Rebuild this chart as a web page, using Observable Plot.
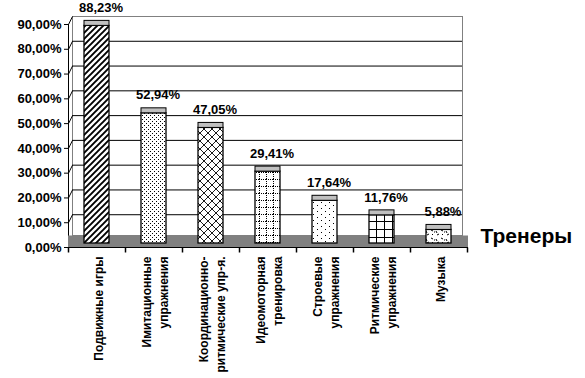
<!DOCTYPE html>
<html>
<head>
<meta charset="utf-8">
<script src="https://cdn.jsdelivr.net/npm/d3@7"></script>
<script src="https://cdn.jsdelivr.net/npm/@observablehq/plot@0.6"></script>
<style>
  html, body { margin: 0; padding: 0; background: #fff; }
</style>
</head>
<body>
<div id="chart"></div>
<script>
// ---- data ----
const categories = [
  "Подвижные игры",
  "Имитационные\nупражнения",
  "Координационно-\nритмические упр-я.",
  "Идеомоторная\nтренировка",
  "Строевые\nупражнения",
  "Ритмические\nупражнения",
  "Музыка"
];
const values = [0.8823, 0.5294, 0.4705, 0.2941, 0.1764, 0.1176, 0.0588];
const yTicks = [0, 0.1, 0.2, 0.3, 0.4, 0.5, 0.6, 0.7, 0.8, 0.9];
const gridTicks = [0.1, 0.2, 0.3, 0.4, 0.5, 0.6, 0.7, 0.8];
const seriesLabel = "Тренеры";

// ---- styles ----
const patternIds = ["p1", "p2", "p3", "p4", "p5", "p6", "p7"];
const data = categories.map((c, i) => ({cat: c, v: values[i], fill: `url(#${patternIds[i]})`}));
const pct = v => d3.format(".2%")(v).replace(".", ",");

const tickSym = {draw(ctx) { ctx.moveTo(0, 0); ctx.lineTo(0, 5); }};
const diagSym = {draw(ctx) { ctx.moveTo(0, 0); ctx.lineTo(4, -8); }};

const svg = Plot.plot({
  width: 585,
  height: 378,
  marginLeft: 68,
  marginRight: 117,
  marginTop: 24,
  marginBottom: 131,
  style: {fontFamily: "'Liberation Sans', Arial, sans-serif", fontSize: "13px", fontWeight: "bold", color: "black", background: "white"},
  x: {domain: categories, paddingInner: 0.56, paddingOuter: 0.28, axis: null},
  y: {domain: [0, 0.9], ticks: yTicks, tickFormat: pct, line: true, tickSize: 4, tickPadding: 3, label: null},
  marks: [
    // back wall
    Plot.frame({stroke: "#808080", dx: 4, dy: -8, insetRight: 10, insetBottom: 4}),
    Plot.ruleY(gridTicks, {stroke: "black", dx: 4, dy: -8, insetRight: 10}),
    // side-wall diagonals
    Plot.dot(yTicks, {y: d => d, frameAnchor: "left", symbol: diagSym, stroke: "black", strokeWidth: 1}),
    // floor
    Plot.ruleY([0], {stroke: "#808080", strokeWidth: 12, dy: -6}),
    Plot.ruleY([0], {stroke: "black"}),
    // x ticks between categories
    Plot.dot(categories, {x: d => d, frameAnchor: "bottom", dx: -28.5, symbol: tickSym, stroke: "black"}),
    Plot.dot(categories.slice(-1), {x: d => d, frameAnchor: "bottom", dx: 28.5, symbol: tickSym, stroke: "black"}),
    // bars
    Plot.barY(data, {x: "cat", y: "v", fill: "fill", stroke: "black", strokeWidth: 1.3, insetBottom: 1, dy: -3}),
    Plot.barY(data, {x: "cat", y1: "v", y2: "v", insetTop: -5, dy: -3, fill: "#c0c0c0", stroke: "black", strokeWidth: 1}),
    // value labels
    Plot.text(data, {x: "cat", y: "v", text: d => pct(d.v), dy: -21, dx: 4, fontSize: 13, fill: "black"}),
    // category labels
    Plot.text(categories, {x: d => d, frameAnchor: "bottom", dy: 9, rotate: -90, textAnchor: "end", lineAnchor: "middle", lineHeight: 1.45, fontSize: 12, fill: "black"}),
    // series label
    Plot.text([seriesLabel], {frameAnchor: "bottom-right", dx: 12, dy: -5, textAnchor: "start", fontSize: 21, fill: "black"})
  ]
});

// pattern definitions
const defs = d3.select(svg).insert("defs", ":first-child");
function pat(id, w, h) {
  const p = defs.append("pattern").attr("id", id).attr("patternUnits", "userSpaceOnUse").attr("width", w).attr("height", h);
  p.append("rect").attr("width", w).attr("height", h).attr("fill", "white");
  return p;
}
// 1: bold diagonal hatch
pat("p1", 6, 6).append("path").attr("d", "M-1,1 L1,-1 M0,6 L6,0 M5,7 L7,5").attr("stroke", "black").attr("stroke-width", 1.9);
// 2: fine dots
{ const p = pat("p2", 4, 4); p.append("rect").attr("x", 0).attr("y", 0).attr("width", 1).attr("height", 1).attr("fill", "black"); p.append("rect").attr("x", 2).attr("y", 2).attr("width", 1).attr("height", 1).attr("fill", "black"); }
// 3: diagonal lattice
pat("p3", 8, 8).append("path").attr("d", "M0,8 L8,0 M-1,1 L1,-1 M7,9 L9,7 M0,0 L8,8 M-1,7 L1,9 M7,-1 L9,1").attr("stroke", "black").attr("stroke-width", 0.9);
// 4: dotted grid
{ const p = pat("p4", 7, 7);
  for (let i = 0; i < 7; i += 2) { p.append("rect").attr("x", i).attr("y", 0).attr("width", 1).attr("height", 1).attr("fill", "black"); p.append("rect").attr("x", 0).attr("y", i).attr("width", 1).attr("height", 1).attr("fill", "black"); } }
// 5: sparse dots
{ const p = pat("p5", 8, 6); p.append("rect").attr("x", 1).attr("y", 1).attr("width", 1).attr("height", 1).attr("fill", "black"); p.append("rect").attr("x", 5).attr("y", 4).attr("width", 1).attr("height", 1).attr("fill", "black"); }
// 6: solid grid
pat("p6", 8, 8).append("path").attr("d", "M0,0 H8 M0,0 V8").attr("stroke", "black").attr("stroke-width", 2);
// 7: confetti
pat("p7", 10, 8).append("path").attr("d", "M1,1 l2,1 M6,2 l1,2 M2,5 l1,1 M7,6 l2,-1 M4,3 l1,0").attr("stroke", "black").attr("stroke-width", 1);

document.getElementById("chart").appendChild(svg);
</script>
</body>
</html>
